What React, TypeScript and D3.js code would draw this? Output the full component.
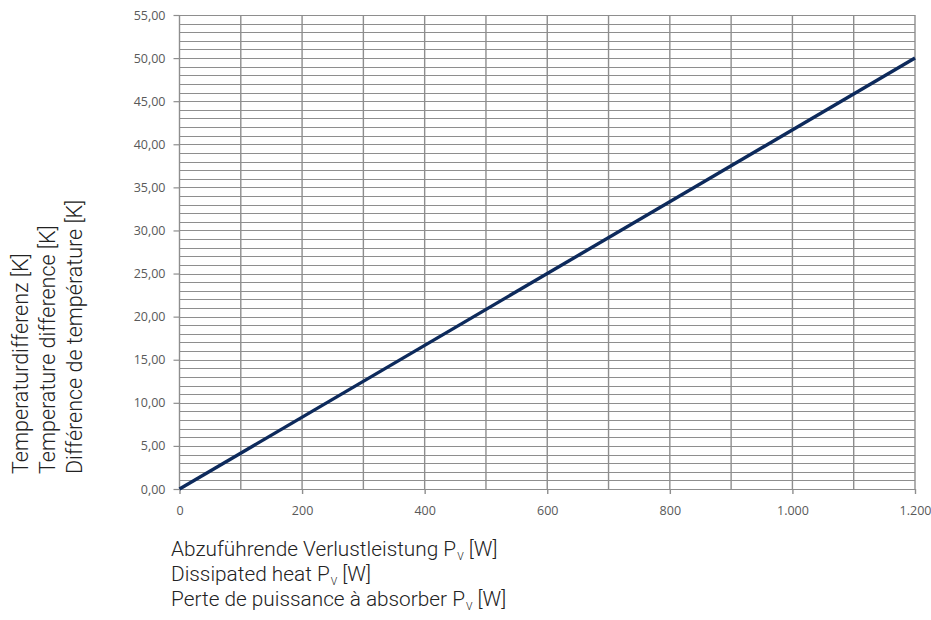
import React, { useRef, useEffect } from 'react';
import * as d3 from 'd3';

// chart data
const powerW = [0, 1200];
const tempDiffK = [0, 50];

const xTicks = [0, 200, 400, 600, 800, 1000, 1200];
const yTicks = [0, 5, 10, 15, 20, 25, 30, 35, 40, 45, 50, 55];

const xTitleLines = [
  ['Abzuführende Verlustleistung P', 'V', ' [W]'],
  ['Dissipated heat P', 'V', ' [W]'],
  ['Perte de puissance à absorber P', 'V', ' [W]'],
];
const yTitleLines = [
  'Temperaturdifferenz [K]',
  'Temperature difference [K]',
  'Différence de température [K]',
];

const W = 931;
const H = 620;
const margin = { left: 179.5, right: 16, top: 15, bottom: 131 };

const App: React.FC = () => {
  const svgRef = useRef<SVGSVGElement>(null);

  useEffect(() => {
    if (!svgRef.current) return;
    const svg = d3.select(svgRef.current);
    svg.selectAll('*').remove();

    const x = d3.scaleLinear().domain([0, 1200]).range([margin.left, W - margin.right]);
    const y = d3.scaleLinear().domain([0, 55]).range([H - margin.bottom, margin.top]);

    const grid = svg.append('g').attr('class', 'grid');

    // horizontal grid, every 1 K
    grid.selectAll('line.h')
      .data(d3.range(0, 56, 1))
      .join('line')
      .attr('class', 'h')
      .attr('x1', x(0)).attr('x2', x(1200))
      .attr('y1', d => Math.round(y(d)) + 0.5).attr('y2', d => Math.round(y(d)) + 0.5)
      .attr('stroke', '#8e8e8e')
      .attr('stroke-width', 1.2);

    // vertical grid, every 100 W
    grid.selectAll('line.v')
      .data(d3.range(0, 1201, 100))
      .join('line')
      .attr('class', 'v')
      .attr('x1', d => x(d)).attr('x2', d => x(d))
      .attr('y1', y(55)).attr('y2', y(0))
      .attr('stroke', '#8e8e8e')
      .attr('stroke-width', 1.4);

    // y axis
    const yAxis = d3.axisLeft(y)
      .tickValues(yTicks)
      .tickSize(6)
      .tickPadding(8)
      .tickFormat(d => d3.format('.2f')(d as number).replace('.', ','));
    const gy = svg.append('g')
      .attr('transform', `translate(${x(0)},0)`)
      .call(yAxis);
    gy.select('.domain').remove();
    gy.selectAll('line').attr('stroke', '#8e8e8e').attr('stroke-width', 1.2);
    gy.selectAll('text')
      .attr('fill', '#595959')
      .attr('font-family', '"Open Sans", sans-serif')
      .attr('font-size', '12.5px');

    // x axis
    const xAxis = d3.axisBottom(x)
      .tickValues(xTicks)
      .tickSize(5)
      .tickPadding(12)
      .tickFormat(d => d3.format(',')(d as number).replace(/,/g, '.'));
    const gx = svg.append('g')
      .attr('transform', `translate(0,${y(0)})`)
      .call(xAxis);
    gx.select('.domain').remove();
    gx.selectAll('line').attr('stroke', '#8e8e8e').attr('stroke-width', 1.4);
    gx.selectAll('text')
      .attr('fill', '#595959')
      .attr('font-family', '"Open Sans", sans-serif')
      .attr('font-size', '12.5px');

    // series line
    const pts = powerW.map((p, i) => [p, tempDiffK[i]] as [number, number]);
    const line = d3.line<[number, number]>()
      .x(d => x(d[0]))
      .y(d => y(d[1]));
    svg.append('path')
      .datum(pts)
      .attr('d', line)
      .attr('fill', 'none')
      .attr('stroke', '#0d2a5c')
      .attr('stroke-width', 3.4);

    // x title (three languages)
    const xt = svg.append('g')
      .attr('font-family', 'Roboto, sans-serif')
      .attr('font-weight', 300)
      .attr('fill', '#222');
    xTitleLines.forEach((parts, i) => {
      const t = xt.append('text')
        .attr('x', 171)
        .attr('y', 556 + i * 25)
        .attr('font-size', '20.8px');
      t.append('tspan').text(parts[0]);
      t.append('tspan').attr('font-size', '10.5px').attr('dx', 1).attr('dy', 4).text(parts[1]);
      t.append('tspan').attr('dy', -4).text(parts[2]);
    });

    // y title (three languages), rotated
    yTitleLines.forEach((label, i) => {
      const bx = 28 + i * 27;
      svg.append('text')
        .attr('transform', `translate(${bx},474) rotate(-90)`)
        .attr('font-family', 'Roboto, sans-serif')
        .attr('font-weight', 300)
        .attr('font-size', '21.5px')
        .attr('fill', '#222')
        .text(label);
    });
  }, []);

  return (
    <div style={{ position: 'absolute', left: 0, top: 0 }}>
      <svg ref={svgRef} width={W} height={H} style={{ display: 'block', background: '#fff' }} />
    </div>
  );
};

export default App;
